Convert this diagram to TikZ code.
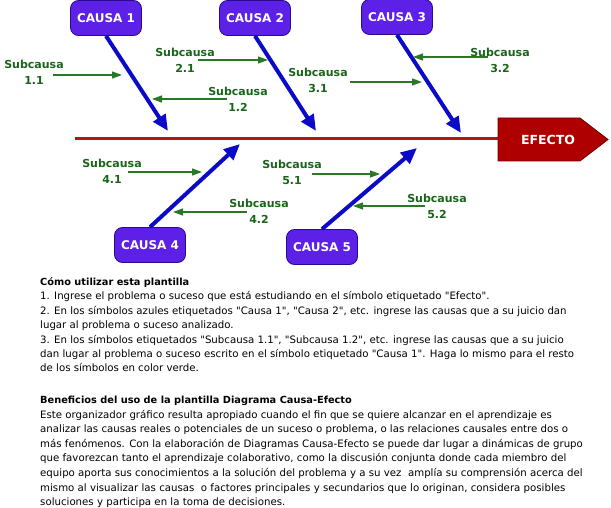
\documentclass[tikz,border=0pt]{standalone}
\usepackage{fontspec}
\setmainfont{DejaVu Sans}[Ligatures=TeXOff]
\usetikzlibrary{arrows.meta}
\definecolor{causafill}{RGB}{92,32,230}
\definecolor{causaline}{RGB}{40,10,140}
\definecolor{bluearrow}{RGB}{10,10,200}
\definecolor{subgreen}{RGB}{25,100,25}
\definecolor{arrowgreen}{RGB}{40,120,40}
\definecolor{mainred}{RGB}{180,20,20}
\definecolor{efectofill}{RGB}{175,0,0}
\definecolor{efectoline}{RGB}{110,0,0}
\begin{document}
\begin{tikzpicture}[x=1pt,y=-1pt,
 causa/.style={draw=causaline, line width=0.8pt, fill=causafill, rounded corners=8pt, minimum width=71pt, minimum height=35pt, text=white, font=\bfseries\fontsize{12}{12}\selectfont, inner sep=0pt},
 sub/.style={align=center, text=subgreen, font=\bfseries\fontsize{11}{16}\selectfont, inner sep=0pt},
 bigarrow/.style={draw=bluearrow, line width=4pt, -{Triangle[length=16pt,width=14pt]}},
 subarrow/.style={draw=arrowgreen, line width=1.2pt, -{Triangle[length=10pt,width=7pt]}},
 body/.style={anchor=base west, inner sep=0pt, font=\fontsize{10.2}{12}\selectfont},
 head/.style={anchor=base west, inner sep=0pt, font=\bfseries\fontsize{9.8}{12}\selectfont}
]
\useasboundingbox (0,0) rectangle (611,508);
% main spine
\coordinate (ls) at (75,139);
\coordinate (efl) at (498,139);
\draw[mainred, line width=3pt] (ls) -- (efl);
\path[fill=efectofill, draw=efectoline, line width=0.8pt] (498,118) -- (580,118) -- (608,139.5) -- (580,161) -- (498,161) -- cycle;
\node[text=white, font=\bfseries\fontsize{12.5}{13}\selectfont, inner sep=0pt] (ef) at (548,139.5) {EFECTO};
% causes
\node[causa] (c1) at (106,18) {CAUSA 1};
\node[causa] (c2) at (255,18) {CAUSA 2};
\node[causa] (c3) at (397,17) {CAUSA 3};
\node[causa] (c4) at (150,245) {CAUSA 4};
\node[causa] (c5) at (322,247) {CAUSA 5};
\coordinate (t1) at (168,131);
\coordinate (t2) at (316,131);
\coordinate (t3) at (461,133);
\coordinate (t4) at (240,144);
\coordinate (t5) at (417,148);
\draw[bigarrow] (c1.south) -- (t1);
\draw[bigarrow] (c2.south) -- (t2);
\draw[bigarrow] (c3.south) -- (t3);
\draw[bigarrow] (c4.north) -- (t4);
\draw[bigarrow] (c5.north) -- (t5);
% subcauses
\node[sub] (s11) at (34,72) {Subcausa\\1.1};
\node[sub] (s21) at (185,60) {Subcausa\\2.1};
\node[sub] (s12) at (238,99) {Subcausa\\1.2};
\node[sub] (s31) at (318,80) {Subcausa\\3.1};
\node[sub] (s32) at (500,60) {Subcausa\\3.2};
\node[sub] (s41) at (112,171) {Subcausa\\4.1};
\node[sub] (s42) at (259,211) {Subcausa\\4.2};
\node[sub] (s51) at (292,172) {Subcausa\\5.1};
\node[sub] (s52) at (437,206) {Subcausa\\5.2};
\coordinate (a11) at (53,75);   \coordinate (b11) at (122,75);
\coordinate (a21) at (198,60);  \coordinate (b21) at (268,60);
\coordinate (a12) at (227,99);  \coordinate (b12) at (152,99);
\coordinate (a31) at (350,82);  \coordinate (b31) at (422,82);
\coordinate (a32) at (488,57);  \coordinate (b32) at (413,57);
\coordinate (a41) at (128,172); \coordinate (b41) at (202,172);
\coordinate (a42) at (247,212); \coordinate (b42) at (173,212);
\coordinate (a51) at (312,174); \coordinate (b51) at (380,174);
\coordinate (a52) at (425,206); \coordinate (b52) at (353,206);
\foreach \s in {11,21,12,31,32,41,42,51,52} {\draw[subarrow] (a\s) -- (b\s);}
% text
\node[head] (h1) at (40,285.5) {Cómo utilizar esta plantilla};
\foreach \t [count=\i] in {
 {1. Ingrese el problema o suceso que está estudiando en el símbolo etiquetado "Efecto".},
 {2. En los símbolos azules etiquetados "Causa 1", "Causa 2", etc. ingrese las causas que a su juicio dan},
 {lugar al problema o suceso analizado.},
 {3. En los símbolos etiquetados "Subcausa 1.1", "Subcausa 1.2", etc. ingrese las causas que a su juicio},
 {dan lugar al problema o suceso escrito en el símbolo etiquetado "Causa 1". Haga lo mismo para el resto},
 {de los símbolos en color verde.}}
 {\node[body] (p\i) at (40,{285.5+\i*14.4}) {\t};}
\node[head] (h2) at (40,403.5) {Beneficios del uso de la plantilla Diagrama Causa-Efecto};
\foreach \t [count=\i] in {
 {Este organizador gráfico resulta apropiado cuando el fin que se quiere alcanzar en el aprendizaje es},
 {analizar las causas reales o potenciales de un suceso o problema, o las relaciones causales entre dos o},
 {más fenómenos. Con la elaboración de Diagramas Causa-Efecto se puede dar lugar a dinámicas de grupo},
 {que favorezcan tanto el aprendizaje colaborativo, como la discusión conjunta donde cada miembro del},
 {equipo aporta sus conocimientos a la solución del problema y a su vez \ amplía su comprensión acerca del},
 {mismo al visualizar las causas \ o factores principales y secundarios que lo originan, considera posibles},
 {soluciones y participa en la toma de decisiones.}}
 {\node[body] (q\i) at (40,{403.5+\i*14.6}) {\t};}
\end{tikzpicture}
\end{document}
